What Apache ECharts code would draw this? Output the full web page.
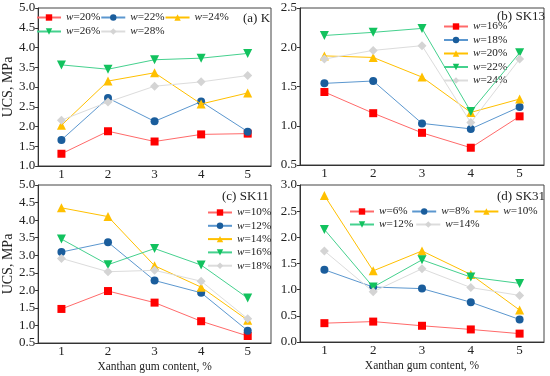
<!DOCTYPE html>
<html>
<head>
<meta charset="utf-8">
<script src="https://cdn.jsdelivr.net/npm/echarts@6/dist/echarts.min.js"></script>
<style>
html,body{margin:0;padding:0;background:#fff;}
#c{width:550px;height:376px;}
</style>
</head>
<body>
<div id="c"></div>
<script>
const categories = ['1', '2', '3', '4', '5'];

// Panel (a) K
const aNames = ['20%', '22%', '24%', '26%', '28%'];
const aW20 = [1.31, 1.88, 1.62, 1.80, 1.82];
const aW22 = [1.66, 2.72, 2.13, 2.63, 1.87];
const aW24 = [2.03, 3.15, 3.36, 2.57, 2.85];
const aW26 = [3.56, 3.45, 3.69, 3.73, 3.85];
const aW28 = [2.16, 2.62, 3.02, 3.13, 3.29];

// Panel (b) SK13
const bNames = ['16%', '18%', '20%', '22%', '24%'];
const bW16 = [1.43, 1.16, 0.91, 0.72, 1.12];
const bW18 = [1.54, 1.57, 1.03, 0.96, 1.24];
const bW20 = [1.89, 1.87, 1.62, 1.17, 1.34];
const bW22 = [2.15, 2.19, 2.24, 1.18, 1.93];
const bW24 = [1.85, 1.96, 2.02, 1.04, 1.85];

// Panel (c) SK11
const cNames = ['10%', '12%', '14%', '16%', '18%'];
const cW10 = [1.47, 1.98, 1.65, 1.12, 0.70];
const cW12 = [3.09, 3.37, 2.28, 1.93, 0.85];
const cW14 = [4.35, 4.10, 2.70, 2.09, 1.15];
const cW16 = [3.46, 2.73, 3.19, 2.72, 1.78];
const cW18 = [2.91, 2.53, 2.57, 2.26, 1.19];

// Panel (d) SK31
const dNames = ['6%', '8%', '10%', '12%', '14%'];
const dW6 = [0.36, 0.39, 0.31, 0.24, 0.16];
const dW8 = [1.38, 1.05, 1.02, 0.76, 0.43];
const dW10 = [2.80, 1.36, 1.74, 1.29, 0.61];
const dW12 = [2.15, 1.05, 1.57, 1.24, 1.12];
const dW14 = [1.74, 0.96, 1.40, 1.04, 0.89];

const panelTitles = ['(a) K', '(b) SK13', '(c) SK11', '(d) SK31'];
const xAxisTitle = 'Xanthan gum content, %';
const yAxisTitle = 'UCS, MPa';

const FONT = '"Liberation Serif", "Times New Roman", serif';
const markerColors = ['#ff0000', '#1a5d9c', '#ffc000', '#12c25e', '#d4d4d4'];
const lineColors = ['#ff6a6a', '#5b97cf', '#ffc000', '#45d18e', '#dcdcdc'];
const symbols = ['rect', 'circle', 'triangle', 'path://M0,0 L10,0 L5,9 Z', 'diamond'];
const symbolSizes = [8, 8, 9, 9, 9];

const grids = [
  {left: 29, top: 8, width: 242, height: 158},
  {left: 300, top: 8, width: 244, height: 157},
  {left: 29, top: 185, width: 242, height: 158},
  {left: 300, top: 185, width: 244, height: 157}
];
const yRanges = [[1, 5], [0.5, 2.5], [0.5, 5], [0, 3]];
const panelData = [
  [aW20, aW22, aW24, aW26, aW28],
  [bW16, bW18, bW20, bW22, bW24],
  [cW10, cW12, cW14, cW16, cW18],
  [dW6, dW8, dW10, dW12, dW14]
];
const panelNames = [aNames, bNames, cNames, dNames];
const prefixes = ['a', 'b', 'c', 'd'];

const series = [];
panelData.forEach((arrs, p) => {
  arrs.forEach((vals, i) => {
    series.push({
      type: 'line',
      name: prefixes[p] + ':' + panelNames[p][i],
      xAxisIndex: p, yAxisIndex: p,
      data: vals,
      symbol: symbols[i],
      symbolSize: symbolSizes[i],
      showSymbol: true,
      itemStyle: {color: markerColors[i], borderWidth: 0},
      lineStyle: {color: lineColors[i], width: 1},
      z: 2 + i,
      animation: false
    });
  });
});

const xAxes = grids.map((g, p) => ({
  type: 'category', gridIndex: p, data: categories, boundaryGap: true,
  axisLine: {lineStyle: {color: '#333', width: 1}},
  axisTick: {alignWithLabel: true, length: 3, lineStyle: {color: '#333'}},
  axisLabel: {color: '#222', fontFamily: FONT, fontSize: 13, margin: 2},
  splitLine: {show: false},
  name: p >= 2 ? xAxisTitle : '',
  nameLocation: 'middle', nameGap: 18,
  nameTextStyle: {color: '#222', fontFamily: FONT, fontSize: 11.5}
}));
const yAxes = grids.map((g, p) => ({
  type: 'value', gridIndex: p, min: yRanges[p][0], max: yRanges[p][1], interval: 0.5,
  axisLine: {show: true, lineStyle: {color: '#333', width: 1}},
  axisTick: {show: true, length: 3, lineStyle: {color: '#333'}},
  axisLabel: {color: '#222', fontFamily: FONT, fontSize: 13, margin: 3,
    formatter: v => v.toFixed(1)},
  splitLine: {show: false},
  name: (p === 0 || p === 2) ? yAxisTitle : '',
  nameLocation: 'middle', nameGap: 12,
  nameTextStyle: {color: '#222', fontFamily: FONT, fontSize: 14}
}));

const legendText = {
  color: '#222', fontFamily: FONT, fontSize: 11.2,
  rich: {i: {fontStyle: 'italic', fontFamily: FONT, fontSize: 11.2, color: '#222'}}
};
const fmt = n => '{i|w}=' + n.slice(2);
function mkLegend(names, left, top, orient, gap) {
  return {
    data: names, left: left, top: top, orient: orient,
    itemWidth: 24, itemHeight: 8, itemGap: gap, padding: 0,
    formatter: fmt, textStyle: legendText, selectedMode: false
  };
}
const legends = [
  mkLegend(['a:20%', 'a:22%', 'a:24%'], 36, 12, 'horizontal', 0),
  mkLegend(['a:26%', 'a:28%'], 36, 26, 'horizontal', 0),
  mkLegend(bNames.map(n => 'b:' + n), 443, 21, 'vertical', 2.5),
  mkLegend(cNames.map(n => 'c:' + n), 207, 207, 'vertical', 2.3),
  mkLegend(['d:6%', 'd:8%', 'd:10%'], 349, 206, 'horizontal', 3.5),
  mkLegend(['d:12%', 'd:14%'], 349, 219, 'horizontal', 2)
];

const titlePos = [[243, 12], [497, 10], [222, 190], [497, 190]];
const titles = panelTitles.map((t, p) => ({
  text: t, left: titlePos[p][0], top: titlePos[p][1], padding: 0,
  textStyle: {color: '#222', fontFamily: FONT, fontSize: 13, fontWeight: 'normal'}
}));

const chart = echarts.init(document.getElementById('c'), null, {renderer: 'canvas'});
chart.setOption({
  animation: false,
  backgroundColor: '#fff',
  title: titles,
  legend: legends,
  grid: grids.map(g => Object.assign({show: true, borderColor: '#444', borderWidth: 1, containLabel: false}, g)),
  xAxis: xAxes,
  yAxis: yAxes,
  series: series
});
</script>
</body>
</html>
